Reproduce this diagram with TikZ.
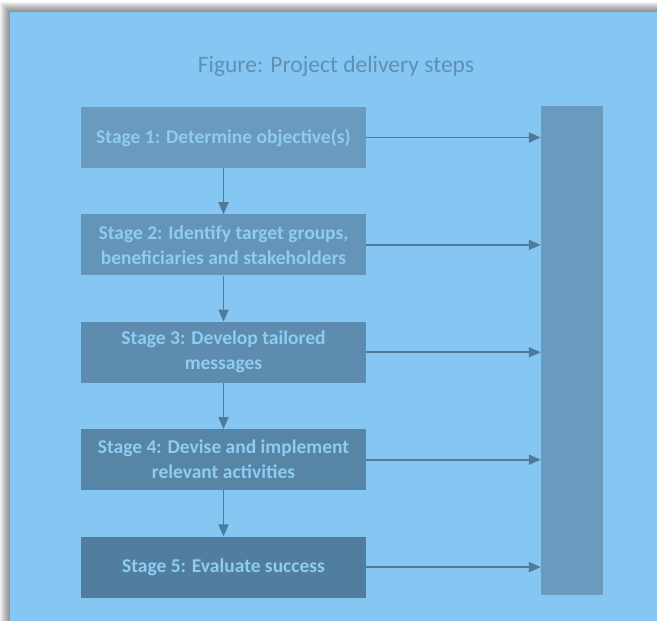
\documentclass[tikz,border=0pt]{standalone}
\usepackage{xcolor}
\usepackage{fontspec}
\setmainfont{Carlito}
\usepackage{tikz}
\usetikzlibrary{positioning, fit, arrows.meta}

\definecolor{panelblue}{HTML}{85C7F2}
\definecolor{titleblue}{HTML}{5E90B3}
\definecolor{textblue}{HTML}{8ECCF2}
\definecolor{linkblue}{HTML}{4F7B9A}
\definecolor{barblue}{HTML}{6A9BBE}
\definecolor{stageA}{HTML}{6A9ABD}
\definecolor{stageB}{HTML}{6494B7}
\definecolor{stageC}{HTML}{5D8CAE}
\definecolor{stageD}{HTML}{5785A6}
\definecolor{stageE}{HTML}{517E9E}

\tikzset{
  stagebox/.style={minimum width=285pt, minimum height=61pt, inner sep=0pt, align=center,
    text=textblue, font=\fontsize{19.5}{25}\selectfont\bfseries},
  link/.style={draw=linkblue, line width=1.8pt, -{Triangle[length=12pt, width=10pt]}}
}

\begin{document}
\begin{tikzpicture}[x=1pt, y=-1pt]

		\useasboundingbox (0,0) rectangle (657,621);
		\fill[white] (0,0) rectangle (657,621);

		%//shadow behind the panel
		\foreach \i in {1,...,11}
		\fill[black, opacity=0.05] (11-\i, 13-\i) rectangle (657,621);

		\fill[panelblue] (10,12) rectangle (657,621);

		\node [text=titleblue, font=\fontsize{23.5}{28}\selectfont] (title) at (336, 66) {Figure: Project delivery steps};

		%//stages
		\node [stagebox, fill=stageA] (s1) at (223.5, 137.5) {Stage 1: Determine objective(s)};
		\node [stagebox, fill=stageB, below=46pt of s1] (s2) {Stage 2: Identify target groups,\\beneficiaries and stakeholders};
		\node [stagebox, fill=stageC, below=46pt of s2] (s3) {Stage 3: Develop tailored\\messages};
		\node [stagebox, fill=stageD, below=46pt of s3] (s4) {Stage 4: Devise and implement\\relevant activities};
		\node [stagebox, fill=stageE, below=46pt of s4] (s5) {Stage 5: Evaluate success};

		\coordinate (bartop) at (541, 106);
		\coordinate (barbot) at (603, 595);
		\node [fill=barblue, inner sep=0pt, fit=(bartop)(barbot)] (bar) {};

		\foreach \a/\b in {s1/s2, s2/s3, s3/s4, s4/s5}
		\draw [link] (\a) -- (\b);

		\foreach \s in {s1, s2, s3, s4, s5}
		\draw [link] (\s.east) -- (bar.west |- \s.east);

\end{tikzpicture}
\end{document}
